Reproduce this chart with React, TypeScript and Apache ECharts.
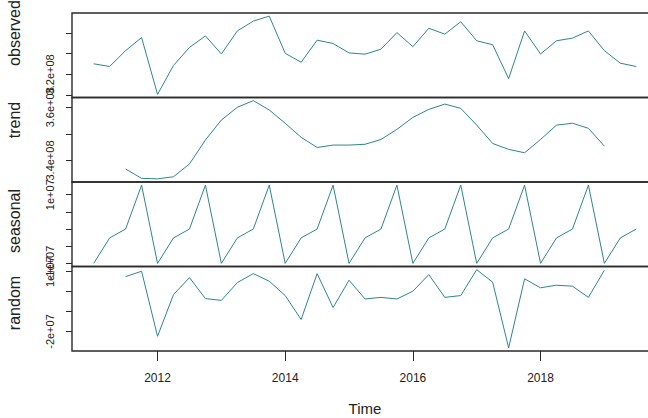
import React, { useEffect, useRef } from "react";
import * as echarts from "echarts";

// Quarterly series, start 2011 Q1, values in millions
const START_YEAR = 2011;
const FREQUENCY = 4;
const UNIT = 1e6;

const observed = [
  330.2, 327.6, 342.9, 355.5, 300.7, 328.6, 346.0, 357.1, 339.7, 361.9,
  371.4, 376.2, 340.3, 331.7, 353.0, 349.8, 340.7, 339.5, 344.3, 360.3,
  346.7, 364.5, 358.8, 370.8, 352.4, 348.6, 315.9, 361.9, 339.7, 352.4,
  355.0, 361.9, 342.9, 330.8, 327.6,
];

const trend = [
  null, null, 336.8, 333.3, 333.1, 333.9, 338.7, 347.7, 355.2, 360.0,
  362.5, 359.0, 354.0, 348.7, 344.9, 345.8, 345.8, 346.1, 347.9, 351.7,
  356.2, 359.2, 361.2, 359.6, 353.3, 346.4, 344.2, 342.9, 347.9, 353.3,
  354.0, 352.1, 345.4, null, null,
];

const seasonal = [
  -10.1, -2.65, -0.05, 12.8, -10.1, -2.65, -0.05, 12.8, -10.1, -2.65,
  -0.05, 12.8, -10.1, -2.65, -0.05, 12.8, -10.1, -2.65, -0.05, 12.8,
  -10.1, -2.65, -0.05, 12.8, -10.1, -2.65, -0.05, 12.8, -10.1, -2.65,
  -0.05, 12.8, -10.1, -2.65, -0.05,
];

const random = [
  null, null, 7.5, 10.2, -22.4, -1.5, 7.0, -3.5, -4.4, 4.5,
  9.0, 5.2, -2.0, -14.0, 9.0, -8.0, 5.7, -3.7, -2.9, -3.7,
  0.2, 8.5, -2.9, -2.0, 11.0, 4.7, -28.2, 6.4, 1.9, 3.2,
  2.7, -2.9, 10.7, null, null,
];

// Axis ticks and the subset of ticks that carry a label
const observedTicks = [300, 320, 340, 360];
const observedLabels = [320];
const trendTicks = [340, 350, 360];
const trendLabels = [340, 360];
const seasonalTicks = [-10, -5, 0, 5, 10];
const seasonalLabels = [-10, 10];
const randomTicks = [-20, -10, 0, 10];
const randomLabels = [-20, 10];
const timeTicks = [2012, 2014, 2016, 2018];

const panelNames = ["observed", "trend", "seasonal", "random"];

const FONT = "'Liberation Sans', Arial, sans-serif";
const LINE_COLOR = "#2e8787";
const INK = "#2a2a2a";

function sci(v: number): string {
  const value = v * UNIT;
  if (value === 0) return "0e+00";
  return value.toExponential().replace(/e([+-])(\d)$/, "e$10$2");
}

export default function App() {
  const ref = useRef<HTMLDivElement>(null);

  useEffect(() => {
    if (!ref.current) return;
    const chart = echarts.init(ref.current, undefined, { renderer: "svg" });

    const panels = [
      { values: observed, ticks: observedTicks, labels: observedLabels },
      { values: trend, ticks: trendTicks, labels: trendLabels },
      { values: seasonal, ticks: seasonalTicks, labels: seasonalLabels },
      { values: random, ticks: randomTicks, labels: randomLabels },
    ];

    const times = observed.map((_, i) => START_YEAR + i / FREQUENCY);
    const span = times[times.length - 1] - times[0];
    const xMin = times[0] - 0.04 * span;
    const xMax = times[times.length - 1] + 0.04 * span;

    const top0 = 13;
    const h = 84.5;

    const grid = panels.map((_, i) => ({
      left: 72,
      width: 586,
      top: top0 + i * h,
      height: h,
      show: true,
      borderColor: INK,
      borderWidth: 1.4,
      backgroundColor: "transparent",
    }));

    const xAxis = panels.map((_, i) => {
      const last = i === panels.length - 1;
      return {
        type: "value",
        gridIndex: i,
        position: "bottom",
        min: xMin,
        max: xMax,
        splitLine: { show: false },
        axisLine: { show: false, onZero: false },
        axisTick: {
          show: last,
          length: 10,
          customValues: timeTicks,
          lineStyle: { color: INK },
        },
        axisLabel: {
          show: last,
          customValues: timeTicks,
          margin: 21,
          fontSize: 12,
          fontFamily: FONT,
          color: "#222",
          formatter: (v: number) => String(Math.round(v)),
        },
        name: last ? "Time" : "",
        nameLocation: "middle",
        nameGap: 50,
        nameTextStyle: { fontSize: 15, fontFamily: FONT, color: "#222" },
      };
    });

    const yAxis = panels.map((p, i) => {
      const vals = p.values.filter((v) => v !== null) as number[];
      const lo = Math.min(...vals);
      const hi = Math.max(...vals);
      const pad = 0.04 * (hi - lo);
      return {
        type: "value",
        gridIndex: i,
        min: lo - pad,
        max: hi + pad,
        splitLine: { show: false },
        axisLine: { show: false, onZero: false },
        axisTick: {
          show: true,
          length: 6,
          customValues: p.ticks,
          lineStyle: { color: INK },
        },
        axisLabel: { show: false },
      };
    });

    const series = panels.map((p, i) => ({
      type: "line",
      xAxisIndex: i,
      yAxisIndex: i,
      showSymbol: false,
      symbol: "none",
      lineStyle: { color: LINE_COLOR, width: 1 },
      data: p.values
        .map((v, j) => (v === null ? null : [times[j], v]))
        .filter((d) => d !== null),
    }));

    chart.setOption({
      animation: false,
      backgroundColor: "#ffffff",
      grid,
      xAxis,
      yAxis,
      series,
    });

    // Panel titles sit in the left margin, written bottom-to-top
    const nameCenters = [33, 120, 221, 303];
    const titles = panelNames.map((name, i) => ({
      type: "text",
      x: 14,
      y: nameCenters[i],
      rotation: Math.PI / 2,
      style: {
        text: name,
        fontSize: 16,
        fontFamily: FONT,
        fill: "#222",
        textAlign: "center",
        textVerticalAlign: "middle",
      },
    }));

    // Rotated tick labels, placed at the axis' own pixel position for each value
    const tickLabels = panels.flatMap((p, i) =>
      p.labels.map((v) => ({
        type: "text",
        x: 50,
        y: chart.convertToPixel({ yAxisIndex: i }, v) as number,
        rotation: Math.PI / 2,
        style: {
          text: sci(v),
          fontSize: 11,
          fontFamily: FONT,
          fill: "#222",
          textAlign: "center",
          textVerticalAlign: "middle",
        },
      }))
    );

    chart.setOption({ graphic: [...titles, ...tickLabels] });

    return () => chart.dispose();
  }, []);

  // The plot frame runs past the right edge of the page, so the canvas is
  // wider than its clipping box.
  return (
    <div style={{ position: "absolute", left: 0, top: 0, width: 648, height: 418, overflow: "hidden", background: "#fff" }}>
      <div ref={ref} style={{ width: 670, height: 418 }} />
    </div>
  );
}
